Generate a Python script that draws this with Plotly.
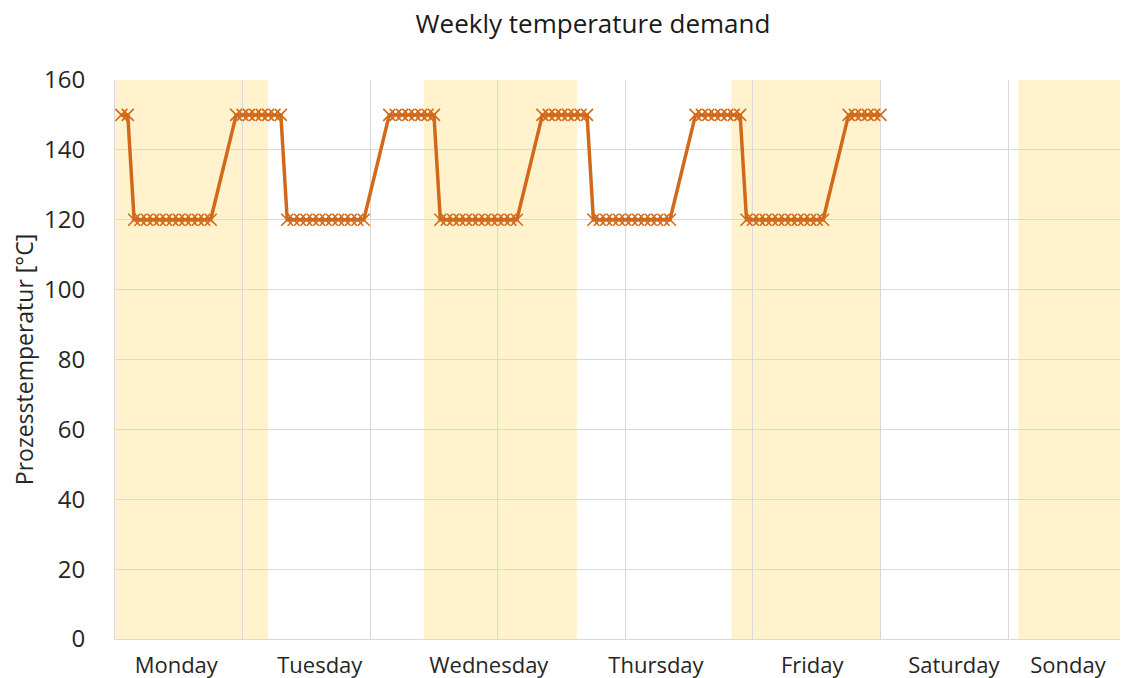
import plotly.graph_objects as go

# hour of the week (1 = Monday 01:00) and process temperature in degC
hours = [
    1, 2, 3, 4, 5, 6, 7, 8, 9, 10, 11, 12, 13, 14, 15, 19, 20, 21, 22, 23, 24,
    25, 26, 27, 28, 29, 30, 31, 32, 33, 34, 35, 36, 37, 38, 39, 43, 44, 45, 46, 47, 48,
    49, 50, 51, 52, 53, 54, 55, 56, 57, 58, 59, 60, 61, 62, 63, 67, 68, 69, 70, 71, 72,
    73, 74, 75, 76, 77, 78, 79, 80, 81, 82, 83, 84, 85, 86, 87, 91, 92, 93, 94, 95, 96,
    97, 98, 99, 100, 101, 102, 103, 104, 105, 106, 107, 108, 109, 110, 111, 115, 116, 117, 118, 119, 120,
]
temperature = [
    150, 150, 120, 120, 120, 120, 120, 120, 120, 120, 120, 120, 120, 120, 120, 150, 150, 150, 150, 150, 150,
    150, 150, 120, 120, 120, 120, 120, 120, 120, 120, 120, 120, 120, 120, 120, 150, 150, 150, 150, 150, 150,
    150, 150, 120, 120, 120, 120, 120, 120, 120, 120, 120, 120, 120, 120, 120, 150, 150, 150, 150, 150, 150,
    150, 150, 120, 120, 120, 120, 120, 120, 120, 120, 120, 120, 120, 120, 120, 150, 150, 150, 150, 150, 150,
    150, 150, 120, 120, 120, 120, 120, 120, 120, 120, 120, 120, 120, 120, 120, 150, 150, 150, 150, 150, 150,
]

day_names = ["Monday", "Tuesday", "Wednesday", "Thursday", "Friday", "Saturday", "Sonday"]
day_label_hours = [9.6, 32.1, 58.6, 84.8, 109.3, 131.5, 149.4]

# shaded day columns (start / end hour)
band_start = [0, 48.4, 96.6, 141.6]
band_end = [24, 72.4, 120.1, 175]

LINE_COLOR = "#D2691A"
BAND_COLOR = "#FFF2CC"
GRID_COLOR = "#D9D9D9"
FONT = "Open Sans, Noto Sans, sans-serif"
X_RANGE = [0, 158.8]

# the page body adds an 8px margin, so the figure is 8px smaller each way
WIDTH, HEIGHT = 1120, 670


def plot_weekly_demand():
    """Build the weekly temperature demand line chart."""
    fig = go.Figure()
    fig.add_trace(
        go.Scatter(
            x=hours,
            y=temperature,
            mode="lines+markers",
            line={"color": LINE_COLOR, "width": 3.5},
            marker={
                "symbol": "x-thin",
                "size": 12,
                "line": {"width": 1.6, "color": LINE_COLOR},
            },
            showlegend=False,
        )
    )
    # second x axis only carries the day labels
    fig.add_trace(
        go.Scatter(x=[None], y=[None], xaxis="x2", showlegend=False, hoverinfo="skip")
    )

    for x0, x1 in zip(band_start, band_end):
        fig.add_shape(
            type="rect",
            xref="x",
            yref="y",
            x0=x0,
            x1=x1,
            y0=0,
            y1=160,
            fillcolor=BAND_COLOR,
            line={"width": 0},
            layer="below",
        )

    fig.update_layout(
        width=WIDTH,
        height=HEIGHT,
        margin={"l": 107, "r": 0, "t": 72, "b": 39},
        paper_bgcolor="white",
        plot_bgcolor="white",
        font={"family": FONT, "color": "#404040"},
        title={
            "text": "Weekly temperature demand",
            "x": 585 / WIDTH,
            "xanchor": "center",
            "y": 1 - 16 / HEIGHT,
            "yanchor": "middle",
            "font": {"size": 26, "color": "#1a1a1a"},
        },
        xaxis={
            "range": X_RANGE,
            "tick0": 0,
            "dtick": 20,
            "showticklabels": False,
            "showgrid": True,
            "gridcolor": GRID_COLOR,
            "zeroline": False,
            "showline": True,
            "linecolor": GRID_COLOR,
        },
        xaxis2={
            "range": X_RANGE,
            "overlaying": "x",
            "anchor": "y",
            "side": "bottom",
            "tickmode": "array",
            "tickvals": day_label_hours,
            "ticktext": day_names,
            "showgrid": False,
            "zeroline": False,
            "ticks": "",
            "ticklabelstandoff": 11,
            "automargin": False,
            "tickfont": {"size": 22, "color": "#262626"},
        },
        yaxis={
            "range": [0, 160],
            "dtick": 20,
            "showgrid": True,
            "gridcolor": GRID_COLOR,
            "zeroline": False,
            "showline": True,
            "linecolor": GRID_COLOR,
            "ticks": "",
            "ticklabelstandoff": 24,
            "automargin": False,
            "tickfont": {"size": 24, "color": "#262626"},
            "title": {
                "text": "Prozesstemperatur [°C]",
                "font": {"size": 23, "color": "#262626"},
                "standoff": 6,
            },
        },
    )
    return fig


fig = plot_weekly_demand()
fig.write_html("out.html")
